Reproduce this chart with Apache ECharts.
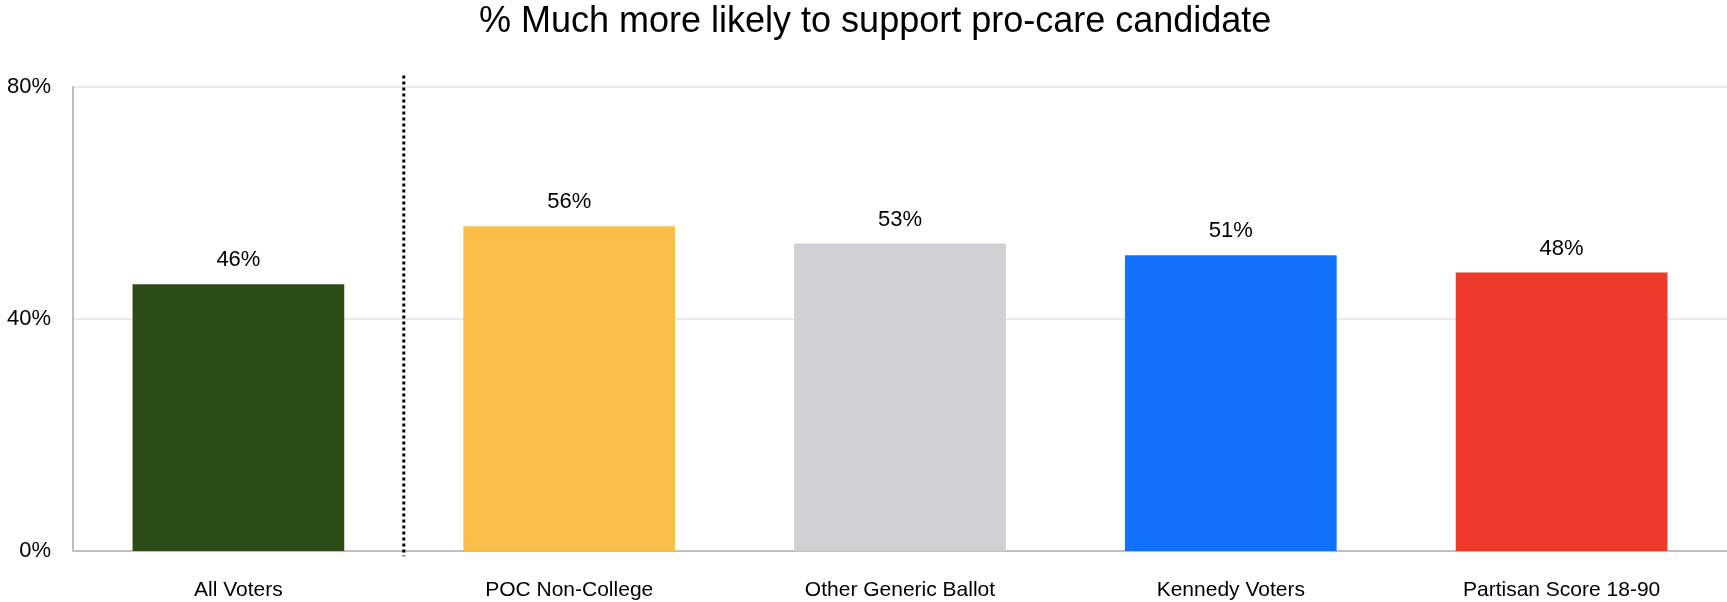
<!DOCTYPE html>
<html>
<head>
<meta charset="utf-8">
<script src="https://cdn.jsdelivr.net/npm/echarts@6/dist/echarts.min.js"></script>
<style>html,body{margin:0;padding:0;background:#fff;}#c{width:1727px;height:602px;}</style>
</head>
<body>
<div id="c"></div>
<script>
const title = '% Much more likely to support pro-care candidate';
const categories = ['All Voters', 'POC Non-College', 'Other Generic Ballot', 'Kennedy Voters', 'Partisan Score 18-90'];
const values = [46, 56, 53, 51, 48];
const colors = ['#2c4c17', '#fdbf4a', '#d0d1d3', '#1271fc', '#ee3a2a'];
const yTicks = [0, 40, 80];
const separatorAfter = 1; // dotted separator after the first category

const FONT = 'Liberation Sans';
const chart = echarts.init(document.getElementById('c'), null, {renderer: 'canvas'});
chart.setOption({
  animation: false,
  backgroundColor: '#ffffff',
  title: {
    text: title, left: 474, top: -1,
    textStyle: {fontFamily: FONT, fontSize: 36, fontWeight: 'normal', color: '#000'}
  },
  grid: {left: 73, right: 0, top: 87, bottom: 51, containLabel: false},
  xAxis: [{
    type: 'category', data: categories,
    axisLine: {lineStyle: {color: '#bfbfbf', width: 2}},
    axisTick: {show: false},
    axisLabel: {fontFamily: FONT, fontSize: 21, color: '#000', margin: 29},
    splitLine: {show: false}
  }, {
    type: 'value', min: 0, max: categories.length, show: false
  }],
  yAxis: {
    type: 'value', min: 0, max: 80, interval: 40,
    axisLine: {show: true, lineStyle: {color: '#bfbfbf', width: 2}},
    axisTick: {show: false},
    axisLabel: {fontFamily: FONT, fontSize: 22, color: '#000', margin: 22,
      formatter: function (v) { return yTicks.indexOf(v) >= 0 ? v + '%' : ''; }},
    splitLine: {lineStyle: {color: '#e3e3e3', width: 1.5}}
  },
  series: [{
    type: 'bar',
    barWidth: '64%',
    data: values.map((v, i) => ({value: v, itemStyle: {color: colors[i]}})),
    label: {show: true, position: 'top', distance: 13, formatter: '{c}%',
      fontFamily: FONT, fontSize: 22, color: '#000'}
  }, {
    type: 'line', xAxisIndex: 1, clip: false, silent: true,
    symbol: 'none',
    data: [[separatorAfter, 82], [separatorAfter, -0.9]],
    lineStyle: {color: '#000', type: [3, 3], width: 3}
  }]
});
</script>
</body>
</html>
